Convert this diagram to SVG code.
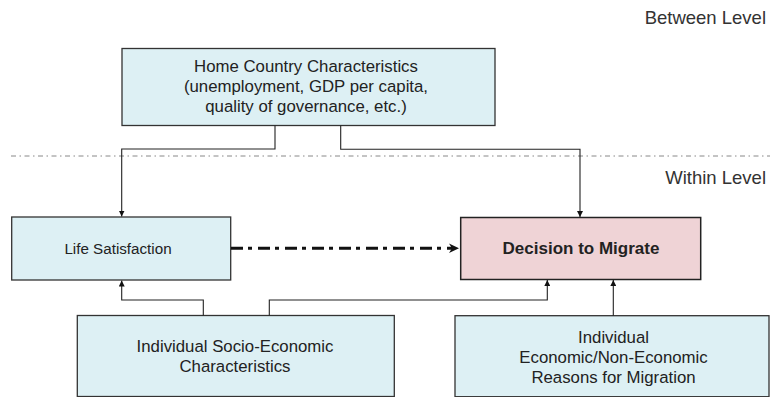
<svg xmlns="http://www.w3.org/2000/svg" width="770" height="397" viewBox="0 0 770 397">
  <style>
    .box { fill: #ddf0f4; stroke: #333; stroke-width: 1.3; }
    .pink { fill: #efd3d6; stroke: #222; stroke-width: 1.5; }
    .t { font-family: "Liberation Sans", Arial, sans-serif; fill: #222; text-anchor: middle; }
    .lvl { font-family: "Liberation Sans", Arial, sans-serif; fill: #333; text-anchor: end; font-size: 18.5px; }
    .conn { fill: none; stroke: #222; stroke-width: 1.1; }
  </style>
  <defs>
    <marker id="arr" viewBox="0 0 10 10" refX="10" refY="5" markerWidth="6" markerHeight="6" markerUnits="userSpaceOnUse" orient="auto">
      <path d="M0,0 L10,5 L0,10 z" fill="#111"/>
    </marker>
  </defs>
  <rect width="770" height="397" fill="#fff"/>

  <text class="lvl" x="766" y="24">Between Level</text>
  <text class="lvl" x="766" y="184">Within Level</text>
  <line x1="11" y1="156" x2="770" y2="156" stroke="#888" stroke-width="1" stroke-dasharray="5 3.5 1.5 3.5"/>

  <g id="home">
    <rect class="box" x="122" y="48.5" width="373" height="77"/>
    <text class="t" font-size="16.8" x="306" y="72">Home Country Characteristics</text>
    <text class="t" font-size="16.8" x="306" y="92">(unemployment, GDP per capita,</text>
    <text class="t" font-size="16.8" x="306" y="112">quality of governance, etc.)</text>
  </g>

  <g id="life">
    <rect class="box" x="11.7" y="217" width="219" height="63"/>
    <text class="t" font-size="15.2" x="118" y="254">Life Satisfaction</text>
  </g>

  <g id="decision">
    <rect class="pink" x="460.7" y="217.5" width="240" height="62"/>
    <text class="t" font-size="17" font-weight="bold" x="581" y="253.5">Decision to Migrate</text>
  </g>

  <g id="socio">
    <rect class="box" x="77.3" y="315.5" width="317" height="81"/>
    <text class="t" font-size="16.8" x="235" y="352">Individual Socio-Economic</text>
    <text class="t" font-size="16.8" x="235" y="372">Characteristics</text>
  </g>

  <g id="reasons">
    <rect class="box" x="455" y="315.7" width="314" height="81"/>
    <text class="t" font-size="16.8" x="613.5" y="343">Individual</text>
    <text class="t" font-size="16.8" x="613.5" y="363">Economic/Non-Economic</text>
    <text class="t" font-size="16.8" x="613.5" y="383">Reasons for Migration</text>
  </g>

  <g id="connectors">
    <path class="conn" d="M275,125.5 V149 H121.7 V216.5" marker-end="url(#arr)"/>
    <path class="conn" d="M340.7,125.5 V149.3 H580 V217" marker-end="url(#arr)"/>
    <path class="conn" d="M203.3,315.5 V300 H121.7 V280.5" marker-end="url(#arr)"/>
    <path class="conn" d="M269.3,315.5 V300 H547.3 V280" marker-end="url(#arr)"/>
    <path class="conn" d="M613.3,315.7 V280" marker-end="url(#arr)"/>
    <path fill="none" stroke="#111" stroke-width="3" stroke-dasharray="12 5 4 6" d="M231,248.3 H452"/>
    <path d="M449,243.5 L459,248.3 L449,253.1 L452,248.3 z" fill="#111"/>
  </g>
</svg>
